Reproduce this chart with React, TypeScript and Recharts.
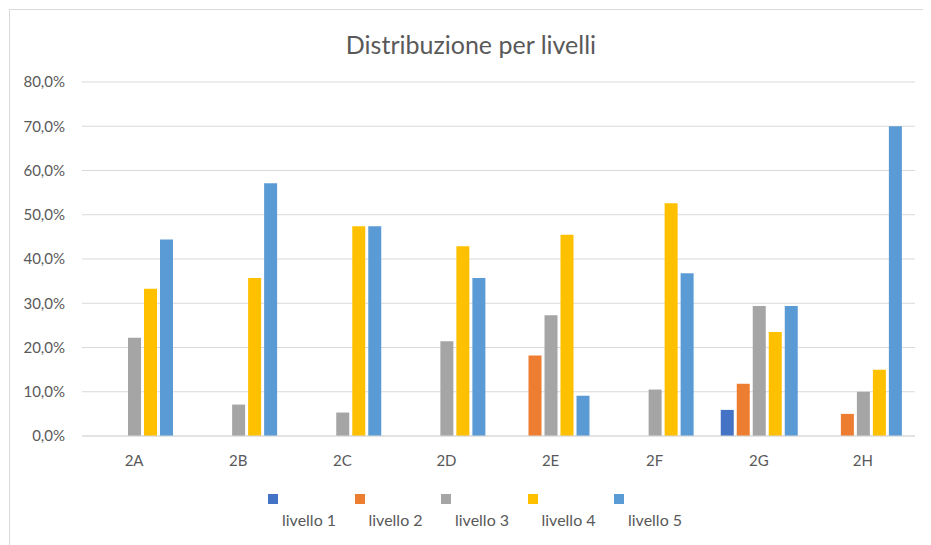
import React from "react";
import { BarChart, Bar, XAxis, YAxis, CartesianGrid, Legend } from "recharts";

const categories = ["2A", "2B", "2C", "2D", "2E", "2F", "2G", "2H"];
const livello1 = [0, 0, 0, 0, 0, 0, 5.9, 0];
const livello2 = [0, 0, 0, 0, 18.2, 0, 11.8, 5.0];
const livello3 = [22.2, 7.1, 5.3, 21.4, 27.3, 10.5, 29.4, 10.0];
const livello4 = [33.3, 35.7, 47.4, 42.9, 45.5, 52.6, 23.5, 15.0];
const livello5 = [44.4, 57.1, 47.4, 35.7, 9.1, 36.8, 29.4, 70.0];
const yTicks = [0, 10, 20, 30, 40, 50, 60, 70, 80];

const seriesNames = ["livello 1", "livello 2", "livello 3", "livello 4", "livello 5"];
const seriesKeys = ["l1", "l2", "l3", "l4", "l5"];
const colors = ["#4472C4", "#ED7D31", "#A5A5A5", "#FFC000", "#5B9BD5"];

const data = categories.map((c, i) => ({
  name: c,
  l1: livello1[i],
  l2: livello2[i],
  l3: livello3[i],
  l4: livello4[i],
  l5: livello5[i],
}));

const FONT = "Lato, 'Open Sans', sans-serif";
const TEXT = "#595959";

const fmt = (v: number) => v.toFixed(1).replace(".", ",") + "%";

const LegendContent = () => (
  <div style={{ position: "relative", height: 50, width: 922 }}>
    {seriesNames.map((n, i) => (
      <div
        key={n}
        style={{ position: "absolute", left: 258 + i * 86.5, top: -2 }}
      >
        <div style={{ width: 10, height: 10, background: colors[i] }} />
        <div
          style={{
            marginLeft: 14,
            marginTop: 7,
            fontSize: 16,
            lineHeight: "18px",
            color: TEXT,
            fontFamily: FONT,
            whiteSpace: "nowrap",
          }}
        >
          {n}
        </div>
      </div>
    ))}
  </div>
);

export default function App() {
  return (
    <div
      style={{
        position: "relative",
        marginLeft: 1,
        marginTop: 1,
        width: 922,
        height: 536,
        borderLeft: "1px solid #d9d9d9",
        borderTop: "1px solid #d9d9d9",
        background: "#fff",
      }}
    >
      <div
        style={{
          position: "absolute",
          left: 0,
          top: 19,
          width: 922,
          textAlign: "center",
          fontFamily: FONT,
          fontSize: 25,
          color: TEXT,
          lineHeight: "30px",
        }}
      >
        Distribuzione per livelli
      </div>
      <BarChart
        width={922}
        height={536}
        data={data}
        margin={{ top: 72, right: 17, left: 0, bottom: 0 }}
        barGap={3}
      >
        <CartesianGrid vertical={false} stroke="#d9d9d9" strokeWidth={1} />
        <XAxis
          dataKey="name"
          height={60}
          axisLine={{ stroke: "#d9d9d9" }}
          tickLine={false}
          tickSize={0}
          tickMargin={19}
          tick={{ fill: TEXT, fontSize: 15, fontFamily: FONT }}
        />
        <YAxis
          width={72}
          domain={[0, 80]}
          ticks={yTicks}
          interval={0}
          tickFormatter={fmt}
          axisLine={false}
          tickLine={false}
          tickSize={0}
          tickMargin={17}
          tick={{ fill: TEXT, fontSize: 15, fontFamily: FONT }}
        />
        <Legend verticalAlign="bottom" content={<LegendContent />} height={50} />
        {seriesKeys.map((k, i) => (
          <Bar
            key={k}
            dataKey={k}
            name={seriesNames[i]}
            fill={colors[i]}
            barSize={13}
            isAnimationActive={false}
          />
        ))}
      </BarChart>
    </div>
  );
}
